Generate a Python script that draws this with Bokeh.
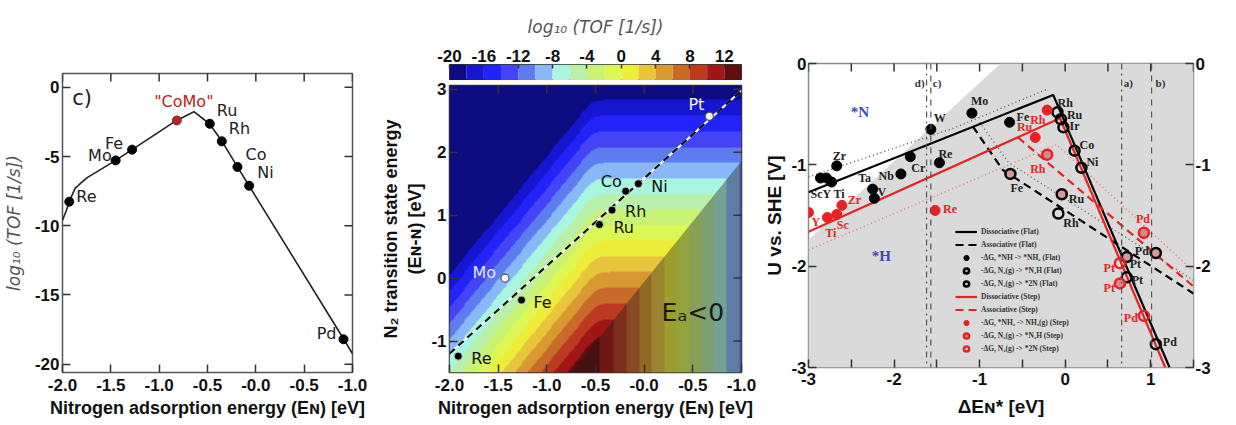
import numpy as np
from bokeh.plotting import figure
from bokeh.layouts import row, column
from bokeh.models import (ColumnDataSource, FixedTicker, Range1d, Legend,
                          LegendItem, LinearColorMapper, Span, Label, LinearAxis)
from bokeh.core.properties import value
from bokeh.embed import file_html
from bokeh.resources import INLINE

# ------------------------------------------------------------------ shared
EN_TICKS = [-2.0, -1.5, -1.0, -0.5, 0.0, 0.5, 1.0]
EN_TICK_LABELS = ["-2.0", "-1.5", "-1.0", "-0.5", "-0.0", "-0.5", "-1.0"]

# ------------------------------------------------------------------ panel c) volcano
VOLCANO_X = [-2.0, -1.96, -1.93, -1.87, -1.80, -1.74, -1.45, -1.28, -0.82, -0.64,
             -0.48, -0.35, -0.19, -0.07, 0.91, 1.0]
VOLCANO_Y = [-9.6, -8.9, -8.26, -7.3, -6.85, -6.5, -5.28, -4.5, -2.39, -1.76,
             -2.63, -3.9, -5.75, -7.11, -18.2, -19.25]
VOLCANO_METALS = ["Re", "Mo", "Fe", "Ru", "Rh", "Co", "Ni", "Pd"]
VOLCANO_METAL_X = [-1.93, -1.45, -1.28, -0.476, -0.352, -0.19, -0.069, 0.907]
VOLCANO_METAL_Y = [-8.26, -5.28, -4.5, -2.63, -3.9, -5.75, -7.11, -18.2]
COMO_NAME = ['"CoMo"']
COMO_X = [-0.817]
COMO_Y = [-2.39]
VOLCANO_Y_TICKS = [0, -5, -10, -15, -20]

# ------------------------------------------------------------------ panel TOF map
CB_EDGES = list(range(-20, 16, 2))
CB_TICKS = [-20, -16, -12, -8, -4, 0, 4, 8, 12]
PALETTE = ["#0c0c80", "#1616d0", "#2222fa", "#4444f6", "#5c7cf0", "#88b8f8",
           "#a8f6e0", "#baf0aa", "#caf276", "#dcf654", "#eeee3a", "#e8c63c",
           "#d89a30", "#c86a28", "#bc3a20", "#a01616", "#5e0e0e"]
SCALING_X = [-2.0, 1.0]
SCALING_Y = [-1.2, 2.98]
MAP_METALS = ["Pt", "Co", "Ni", "Rh", "Ru", "Mo", "Fe", "Re"]
MAP_X = [0.67, -0.19, -0.06, -0.33, -0.46, -1.43, -1.26, -1.91]
MAP_Y = [2.57, 1.38, 1.50, 1.08, 0.85, 0.0, -0.35, -1.24]
MAP_HOLLOW = [True, False, False, False, False, True, False, False]
# shape of the log10(TOF) surface
TOP_A, TOP_C = 4.72, -8.0                    # horizontal bands (upper right)
DIAG_A, DIAG_B, DIAG_C = -18.0, 14.8, -7.8   # diagonal bands (upper left)
DIAG_X0, DIAG_Y0 = -2.0, 0.05
SOFT = 0.5
EA_SLOPE, EA_INTERCEPT = 1.92, -0.06         # Ea = 0 line

# ------------------------------------------------------------------ panel U vs SHE
FLAT_NH_NAMES = ["ScY Ti", "", "", "Zr", "Ta", "V", "Nb", "Cr", "W", "Re", "Mo", "Fe"]
FLAT_NH_X = [-2.86, -2.79, -2.73, -2.67, -2.25, -2.23, -1.92, -1.81, -1.57, -1.47, -1.09, -0.65]
FLAT_NH_Y = [-1.13, -1.13, -1.17, -1.01, -1.24, -1.33, -1.09, -0.92, -0.65, -0.98, -0.49, -0.58]
FLAT_N2H_NAMES = ["Fe", "Ru", "Pt", "Pd"]
FLAT_N2H_X = [-0.64, -0.04, 0.72, 1.06]
FLAT_N2H_Y = [-1.09, -1.29, -1.91, -1.87]
FLAT_2N_NAMES = ["Rh", "Ru", "Ir", "Co", "Ni", "Rh", "Pt", "Pd"]
FLAT_2N_X = [-0.09, -0.05, -0.02, 0.11, 0.19, -0.08, 0.72, 1.06]
FLAT_2N_Y = [-0.48, -0.55, -0.63, -0.86, -1.03, -1.48, -2.11, -2.77]
STEP_NH2_NAMES = ["Y", "Ti", "Sc", "Zr", "Re", "Ru", "Rh"]
STEP_NH2_X = [-3.0, -2.78, -2.67, -2.61, -1.52, -0.35, -0.21]
STEP_NH2_Y = [-1.47, -1.52, -1.49, -1.40, -1.45, -0.73, -0.46]
STEP_N2H_NAMES = ["Rh", "Pt", "Pd"]
STEP_N2H_X = [-0.21, 0.64, 0.92]
STEP_N2H_Y = [-0.90, -2.17, -1.67]
STEP_2N_NAMES = ["Pt", "Pd"]
STEP_2N_X = [0.64, 0.92]
STEP_2N_Y = [-1.97, -2.49]

DISS_FLAT_X = [-3.0, -0.14, 1.22]
DISS_FLAT_Y = [-1.27, -0.31, -3.0]
ASSO_FLAT_X = [-1.08, -0.73, 1.5]
ASSO_FLAT_Y = [-0.62, -1.05, -2.27]
DOT_FLAT_X = [-3.0, -1.31, -0.2]
DOT_FLAT_Y = [-1.12, -0.64, -0.25]
DOT_FLAT2_X = [-1.0, -0.66, 1.5]
DOT_FLAT2_Y = [-0.58, -0.98, -2.14]
DISS_STEP_X = [-3.0, -0.06, 1.17]
DISS_STEP_Y = [-1.66, -0.54, -3.0]
ASSO_STEP_X = [-0.55, 1.5]
ASSO_STEP_Y = [-0.73, -2.2]
DOT_STEP_X = [-3.0, -0.1, 1.5]
DOT_STEP_Y = [-1.84, -0.8, -2.05]
GRAY_Y0, GRAY_SLOPE = -1.74, 0.775          # boundary of shaded (*H) region
VLINES = {"d)": -1.62, "c)": -1.57, "a)": 0.66, "b)": 1.01}

# ================================================================== helpers
TICK_FONT = "Liberation Sans"
TICK_COLOR = "#333333"
FIG_H = 424


def base_fig(**kw):
    p = figure(output_backend="svg", toolbar_location=None, **kw)
    p.grid.visible = False
    p.background_fill_color = "white"
    p.border_fill_color = "white"
    p.outline_line_color = "#555555"
    p.outline_line_width = 1.5
    return p


def style_axis(ax, tick_size="17px", label_size="19px"):
    ax.major_label_text_font = TICK_FONT
    ax.major_label_text_font_style = "bold"
    ax.major_label_text_font_size = tick_size
    ax.major_label_text_color = "#111111"
    ax.axis_label_text_font = TICK_FONT
    ax.axis_label_text_font_style = "bold"
    ax.axis_label_text_font_size = label_size
    ax.axis_label_text_color = "#111111"
    ax.major_tick_in = 8
    ax.major_tick_out = 0
    ax.major_tick_line_color = TICK_COLOR
    ax.major_tick_line_width = 1.5
    ax.minor_tick_line_color = None
    ax.axis_line_color = None
    ax.major_label_standoff = 3
    ax.axis_label_standoff = 3


def mirror_ticks(p, xticks, yticks, xr, yr):
    """inward tick marks on the top and right frame edges (half of each dash is clipped)"""
    p.scatter(xticks, [yr[1]] * len(xticks), marker="dash", angle=np.pi / 2, size=16,
              line_color=TICK_COLOR, line_width=1.5)
    p.scatter([xr[1]] * len(yticks), yticks, marker="dash", size=16,
              line_color=TICK_COLOR, line_width=1.5)


def add_labels(p, xs, ys, texts, aligns, dxs, dys, color, font, size, style="normal"):
    n = len(xs)
    colors = color if isinstance(color, list) else [color] * n
    src = ColumnDataSource(dict(x=xs, y=ys, t=texts, al=aligns, dx=dxs, dy=dys, c=colors))
    p.text(x="x", y="y", text="t", source=src, text_align="al", x_offset="dx",
           y_offset="dy", text_baseline="middle", text_color="c",
           text_font=value(font), text_font_size=value(size),
           text_font_style=value(style))


# ================================================================== panel 1
X1R, Y1R = (-2.0, 1.0), (-20.6, 1.0)
p1 = base_fig(width=378, height=FIG_H, x_range=Range1d(*X1R), y_range=Range1d(*Y1R),
              min_border_left=62, min_border_right=26, min_border_top=73, min_border_bottom=52)
b1, l1 = p1.below[0], p1.left[0]
b1.ticker = FixedTicker(ticks=EN_TICKS)
b1.major_label_overrides = {t: l for t, l in zip(EN_TICKS, EN_TICK_LABELS)}
l1.ticker = FixedTicker(ticks=VOLCANO_Y_TICKS)
l1.major_label_overrides = {t: str(t) for t in VOLCANO_Y_TICKS}
style_axis(b1, label_size="18px")
style_axis(l1)
b1.major_label_standoff = 6
b1.axis_label_standoff = 4
b1.axis_label = "Nitrogen adsorption energy (E\u0274) [eV]"
l1.axis_label = "log\u2081\u2080 (TOF [1/s])"
l1.axis_label_text_font = "DejaVu Sans"
l1.axis_label_text_font_style = "italic"
l1.axis_label_text_color = "#555555"
l1.axis_label_text_font_size = "17px"
l1.axis_label_standoff = 8
mirror_ticks(p1, EN_TICKS, VOLCANO_Y_TICKS, X1R, Y1R)

p1.line(VOLCANO_X, VOLCANO_Y, line_color="#222222", line_width=1.6)
p1.scatter(VOLCANO_METAL_X, VOLCANO_METAL_Y, size=9, fill_color="black", line_color="black")
p1.scatter(COMO_X, COMO_Y, size=9, fill_color="#c41e1e", line_color="#444444", line_width=1)
add_labels(p1, VOLCANO_METAL_X, VOLCANO_METAL_Y, VOLCANO_METALS,
           ["left", "right", "right", "left", "left", "left", "left", "right"],
           [7, -4, -9, 7, 7, 8, 8, -7], [-5, -5, -6, -13, -13, -12, -13, -6],
           "#222222", "DejaVu Sans", "16px")
add_labels(p1, COMO_X, COMO_Y, COMO_NAME, ["center"], [7], [-19],
           "#c02020", "DejaVu Sans", "16px")
add_labels(p1, [-1.9], [-0.8], ["c)"], ["left"], [0], [0], "#222222", "DejaVu Sans", "21px")

# ================================================================== panel 2 (colour bar + map)
CB_H = 80
cb = base_fig(width=383, height=CB_H, x_range=Range1d(CB_EDGES[0], CB_EDGES[-1]),
              y_range=Range1d(0, 1), min_border_left=62, min_border_right=20,
              min_border_top=64, min_border_bottom=0, x_axis_location="above")
cb.outline_line_color = "#333333"
cb.outline_line_width = 1
cb.quad(left=CB_EDGES[:-1], right=CB_EDGES[1:], bottom=0, top=1,
        fill_color=PALETTE, line_color=None)
cb.yaxis.visible = False
cbax = cb.above[0]
style_axis(cbax)
cbax.ticker = FixedTicker(ticks=CB_TICKS)
cbax.major_label_overrides = {t: str(t) for t in CB_TICKS}
cbax.major_tick_in = 4
cbax.axis_label = "log\u2081\u2080 (TOF [1/s])"
cbax.axis_label_text_font = "DejaVu Sans"
cbax.axis_label_text_font_style = "italic"
cbax.axis_label_text_font_size = "17px"
cbax.axis_label_text_color = "#555555"
cbax.axis_label_standoff = 10

X2R, Y2R = (-2.0, 1.0), (-1.5, 3.06)
p2 = base_fig(width=383, height=FIG_H - CB_H, x_range=Range1d(*X2R), y_range=Range1d(*Y2R),
              min_border_left=62, min_border_right=20, min_border_top=5, min_border_bottom=52)
p2.outline_line_color = "#333333"
en = np.linspace(X2R[0], X2R[1], 302)
ets = np.linspace(Y2R[0], Y2R[1], 288)
EN, ETS = np.meshgrid(en, ets)
ETS_EFF = np.maximum(ETS, EA_SLOPE * EN + EA_INTERCEPT)
f_top = TOP_A + TOP_C * ETS_EFF
f_diag = DIAG_A + DIAG_B * (EN - DIAG_X0) + DIAG_C * (ETS_EFF - DIAG_Y0)
terms = np.stack([f_top, f_diag])
field = -SOFT * np.log(np.exp(-terms / SOFT).sum(axis=0))
mapper = LinearColorMapper(palette=PALETTE, low=CB_EDGES[0], high=CB_EDGES[-1],
                           low_color=PALETTE[0], high_color=PALETTE[-1])
p2.image(image=[field.astype(np.float32)], x=X2R[0], y=Y2R[0], dw=X2R[1] - X2R[0],
         dh=Y2R[1] - Y2R[0], color_mapper=mapper)
# Ea < 0 region (below the Ea = 0 line)
x_lo = (Y2R[0] - EA_INTERCEPT) / EA_SLOPE
p2.patch([x_lo, X2R[1], X2R[1]], [Y2R[0], EA_SLOPE * X2R[1] + EA_INTERCEPT, Y2R[0]],
         fill_color="#1a1a1a", fill_alpha=0.38, line_color=None)
p2.line(SCALING_X, SCALING_Y, line_color="white", line_width=2)
p2.line(SCALING_X, SCALING_Y, line_color="black", line_width=2, line_dash="7 5")
solid = [not h for h in MAP_HOLLOW]
p2.scatter([x for x, s in zip(MAP_X, solid) if s], [y for y, s in zip(MAP_Y, solid) if s],
           size=8, fill_color="black", line_color="#dddddd", line_width=0.8)
p2.scatter([x for x, h in zip(MAP_X, MAP_HOLLOW) if h], [y for y, h in zip(MAP_Y, MAP_HOLLOW) if h],
           size=8, fill_color="white", line_color="#555555", line_width=1.2)
add_labels(p2, MAP_X, MAP_Y, MAP_METALS,
           ["right", "right", "left", "left", "left", "right", "left", "left"],
           [-5, -4, 13, 13, 14, -9, 12, 13], [-12, -10, 3, 1, 3, -6, 2, 2],
           ["#f4f4ff", "#111111", "#111111", "#111111", "#111111", "#e8e8ff", "#111111", "#111111"],
           "DejaVu Sans", "16px")
add_labels(p2, [0.5], [-0.54], ["E\u2090<0"], ["center"], [0], [0], "#1a1a1a",
           "DejaVu Sans", "25px")
b2, l2 = p2.below[0], p2.left[0]
b2.ticker = FixedTicker(ticks=EN_TICKS)
b2.major_label_overrides = {t: l for t, l in zip(EN_TICKS, EN_TICK_LABELS)}
Y2_TICKS = [-1, 0, 1, 2, 3]
l2.ticker = FixedTicker(ticks=Y2_TICKS)
l2.major_label_overrides = {t: str(t) for t in Y2_TICKS}
style_axis(b2, label_size="18px")
style_axis(l2, label_size="18px")
b2.major_label_standoff = 6
b2.axis_label_standoff = 4
b2.axis_label = "Nitrogen adsorption energy (E\u0274) [eV]"
l2.axis_label = "N\u2082 transition state energy\n(E\u0274-\u0274) [eV]"
mirror_ticks(p2, EN_TICKS, Y2_TICKS, X2R, Y2R)

# ================================================================== panel 3
X3R, Y3R = (-3.0, 1.5), (-3.0, 0.0)
p3 = base_fig(width=473, height=FIG_H, x_range=Range1d(*X3R), y_range=Range1d(*Y3R),
              min_border_left=42, min_border_right=41, min_border_top=63, min_border_bottom=57)
p3.outline_line_color = "#8a8a8a"
x_top = X3R[0] + (Y3R[1] - GRAY_Y0) / GRAY_SLOPE
p3.patch([X3R[0], x_top, X3R[1], X3R[1], X3R[0]], [GRAY_Y0, Y3R[1], Y3R[1], Y3R[0], Y3R[0]],
         fill_color="#dadada", line_color=None)
for name, xv in VLINES.items():
    dash = "dashdot" if name in ("a)", "d)") else "dashed"
    p3.add_layout(Span(location=xv, dimension="height", line_color="#555555",
                       line_width=1.2, line_dash=dash))
add_labels(p3, list(VLINES.values()), [-0.19] * 4, list(VLINES.keys()),
           ["right", "left", "left", "left"], [-2, 2, 2, 4], [0, 0, 0, 0],
           "#333333", "Liberation Serif", "11px", "bold")

RED = "#e82222"
p3.line(DOT_FLAT_X, DOT_FLAT_Y, line_color="#555555", line_width=1.4, line_dash="1 3")
p3.line(DOT_FLAT2_X, DOT_FLAT2_Y, line_color="#666666", line_width=1.4, line_dash="1 3")
p3.line(DOT_STEP_X, DOT_STEP_Y, line_color="#f07070", line_width=1.4, line_dash="1 3")
r_bs = p3.line(DISS_FLAT_X, DISS_FLAT_Y, line_color="black", line_width=2.2)
r_bd = p3.line(ASSO_FLAT_X, ASSO_FLAT_Y, line_color="black", line_width=2.2, line_dash="8 5")
r_rs = p3.line(DISS_STEP_X, DISS_STEP_Y, line_color=RED, line_width=2.2)
r_rd = p3.line(ASSO_STEP_X, ASSO_STEP_Y, line_color=RED, line_width=2.2, line_dash="8 5")

MS = 10
r_m1 = p3.scatter(FLAT_NH_X, FLAT_NH_Y, size=MS, fill_color="black", line_color="black")
r_m2 = p3.scatter(FLAT_N2H_X, FLAT_N2H_Y, size=MS, fill_color="#d49a9a", line_color="black", line_width=2.5)
r_m3 = p3.scatter(FLAT_2N_X, FLAT_2N_Y, size=MS, fill_color=None, line_color="black", line_width=2.5)
r_m4 = p3.scatter(STEP_NH2_X, STEP_NH2_Y, size=MS, fill_color=RED, line_color=RED)
r_m5 = p3.scatter(STEP_N2H_X, STEP_N2H_Y, size=MS, fill_color="#d88a8a", line_color=RED, line_width=2.5)
r_m6 = p3.scatter(STEP_2N_X, STEP_2N_Y, size=MS, fill_color=None, line_color=RED, line_width=2.5)

SERIF = "Liberation Serif"
add_labels(p3, FLAT_NH_X, FLAT_NH_Y, FLAT_NH_NAMES,
           ["left", "left", "left", "left", "center", "left", "right", "left", "left", "left", "left", "left"],
           [-10, 0, 0, -4, -8, 3, -7, 1, 3, -1, -1, 7],
           [16, 0, 0, -10, -11, -6, 2, 11, -11, -9, -12, -5],
           "#222222", SERIF, "12px", "bold")
add_labels(p3, FLAT_N2H_X, FLAT_N2H_Y, FLAT_N2H_NAMES, ["left", "left", "left", "right"],
           [0, 7, 3, -7], [14, 5, 7, -2], "#222222", SERIF, "12px", "bold")
add_labels(p3, FLAT_2N_X, FLAT_2N_Y, FLAT_2N_NAMES, ["left"] * 8,
           [0, 6, 6, 5, 5, 5, 5, 7], [-9, -4, -1, -6, -6, 10, 3, -2],
           "#222222", SERIF, "12px", "bold")
add_labels(p3, STEP_NH2_X, STEP_NH2_Y, STEP_NH2_NAMES,
           ["left", "left", "left", "left", "left", "right", "left"],
           [3, -2, 0, 6, 8, -3, -17], [10, 15, 11, -5, -1, -10, 10], RED, SERIF, "12px", "bold")
add_labels(p3, STEP_N2H_X, STEP_N2H_Y, STEP_N2H_NAMES, ["left", "right", "left"],
           [-17, -5, -8], [14, 5, -14], RED, SERIF, "12px", "bold")
add_labels(p3, STEP_2N_X, STEP_2N_Y, STEP_2N_NAMES, ["right", "right"], [-5, -6], [5, 2],
           RED, SERIF, "12px", "bold")
add_labels(p3, [-2.4, -2.15], [-0.48, -1.9], ["*N", "*H"], ["center", "center"], [0, 0], [0, 0],
           "#3a4ab8", SERIF, "15px", "bold")

legend = Legend(items=[
    LegendItem(label="Dissociative (Flat)", renderers=[r_bs]),
    LegendItem(label="Associative (Flat)", renderers=[r_bd]),
    LegendItem(label="-\u0394G, *NH -> *NH\u2082 (Flat)", renderers=[r_m1]),
    LegendItem(label="-\u0394G, N\u2082(g) -> *N\u2082H (Flat)", renderers=[r_m2]),
    LegendItem(label="-\u0394G, N\u2082(g) -> *2N (Flat)", renderers=[r_m3]),
    LegendItem(label="Dissociative (Step)", renderers=[r_rs]),
    LegendItem(label="Associative (Step)", renderers=[r_rd]),
    LegendItem(label="-\u0394G, *NH\u2082 -> NH\u2083(g) (Step)", renderers=[r_m4]),
    LegendItem(label="-\u0394G, N\u2082(g) -> *N\u2082H (Step)", renderers=[r_m5]),
    LegendItem(label="-\u0394G, N\u2082(g) -> *2N (Step)", renderers=[r_m6]),
], location=(147, 12))
legend.background_fill_alpha = 0
legend.border_line_alpha = 0
legend.label_text_font = SERIF
legend.label_text_font_style = "bold"
legend.label_text_font_size = "7.5px"
legend.label_text_color = "#333333"
legend.glyph_width = 22
legend.glyph_height = 13
legend.label_height = 13
legend.label_standoff = 4
legend.spacing = 0
legend.padding = 0
legend.margin = 0
p3.add_layout(legend)

X3_TICKS = [-3.0, -2.5, -2.0, -1.5, -1.0, -0.5, 0.0, 0.5, 1.0, 1.5]
X3_LABELS = ["-3", "", "-2", "", "-1", "", "0", "", "1", ""]
Y3_TICKS = [0, -1, -2, -3]
b3, l3 = p3.below[0], p3.left[0]
b3.ticker = FixedTicker(ticks=X3_TICKS)
l3.ticker = FixedTicker(ticks=Y3_TICKS)
l3.major_label_overrides = {t: str(t) for t in Y3_TICKS}
right_ax = LinearAxis(ticker=FixedTicker(ticks=Y3_TICKS),
                      major_label_overrides={t: str(t) for t in Y3_TICKS})
p3.add_layout(right_ax, "right")
for ax in (b3, l3, right_ax):
    style_axis(ax)
    ax.major_label_standoff = 2
b3.major_label_standoff = 5
b3.axis_label_standoff = 8
b3.major_label_overrides = {t: l for t, l in zip(X3_TICKS, X3_LABELS)}
b3.axis_label = "\u0394E\u0274* [eV]"
l3.axis_label = "U vs. SHE [V]"
p3.scatter(X3_TICKS, [Y3R[1]] * len(X3_TICKS), marker="dash", angle=np.pi / 2, size=16,
           line_color=TICK_COLOR, line_width=1.5)
p3.add_layout(Label(x=X3R[1], y=(Y3R[0] + Y3R[1]) / 2, x_offset=31, text="-\u0394G [eV]",
                    angle=np.pi / 2, text_align="center", text_baseline="middle",
                    text_font=TICK_FONT, text_font_style="bold", text_font_size="18px",
                    text_color="#111111"))

# each plot in its own column so the row does not synchronise their borders
layout = row(column(p1), column(cb, p2), column(p3))
open("out.html", "w").write(file_html(layout, INLINE))
